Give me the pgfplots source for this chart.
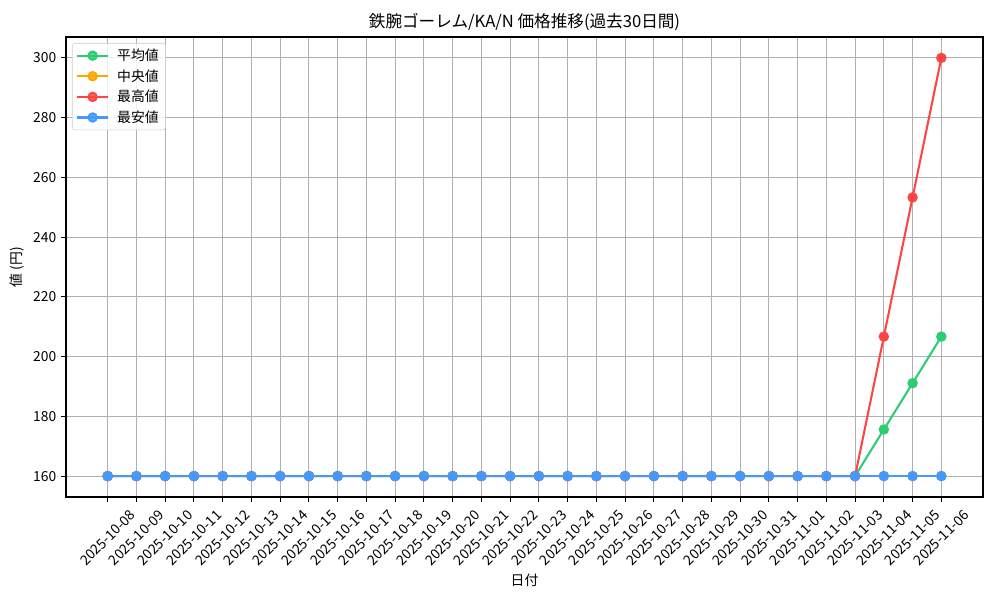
\documentclass[border=0pt]{standalone}
\usepackage{fontspec}
\setmainfont{Noto Sans CJK JP}
\usepackage{pgfplots}
\usepackage{pgfplotstable}
\pgfplotsset{compat=1.18}
\definecolor{cavg}{HTML}{2ECC71}
\definecolor{cmed}{HTML}{FFA500}
\definecolor{cmax}{HTML}{FF4444}
\definecolor{cmin}{HTML}{4499FF}
\definecolor{gridc}{HTML}{B0B0B0}

% idx avg med max min
\pgfplotstableread{
idx avg med max min
0 160 160 160 160
1 160 160 160 160
2 160 160 160 160
3 160 160 160 160
4 160 160 160 160
5 160 160 160 160
6 160 160 160 160
7 160 160 160 160
8 160 160 160 160
9 160 160 160 160
10 160 160 160 160
11 160 160 160 160
12 160 160 160 160
13 160 160 160 160
14 160 160 160 160
15 160 160 160 160
16 160 160 160 160
17 160 160 160 160
18 160 160 160 160
19 160 160 160 160
20 160 160 160 160
21 160 160 160 160
22 160 160 160 160
23 160 160 160 160
24 160 160 160 160
25 160 160 160 160
26 160 160 160 160
27 175.6 160 206.7 160
28 191.1 160 253.3 160
29 206.7 160 300 160
}\prices

\begin{document}
\begin{tikzpicture}
\useasboundingbox (0,0) rectangle (10in,6in);
\begin{axis}[
    at={(0.66in,1.03in)}, anchor=south west,
    scale only axis, width=9.17in, height=4.6in,
    font=\fontsize{10}{12}\selectfont,
    title={鉄腕ゴーレム/KA/N 価格推移(過去30日間)},
    title style={font=\fontsize{12}{14}\selectfont, yshift=-5pt},
    xlabel={日付}, ylabel={値 (円)},
    xlabel style={yshift=3pt},
    xmin=-1.45, xmax=30.45, ymin=153, ymax=307,
    xtick={0,...,29},
    xticklabels={2025-10-08,2025-10-09,2025-10-10,2025-10-11,2025-10-12,2025-10-13,2025-10-14,2025-10-15,2025-10-16,2025-10-17,2025-10-18,2025-10-19,2025-10-20,2025-10-21,2025-10-22,2025-10-23,2025-10-24,2025-10-25,2025-10-26,2025-10-27,2025-10-28,2025-10-29,2025-10-30,2025-10-31,2025-11-01,2025-11-02,2025-11-03,2025-11-04,2025-11-05,2025-11-06},
    xticklabel style={anchor=center, yshift=-26pt, rotate=45},
    ytick={160,180,...,300},
    /pgf/number format/assume math mode=true,
    tick pos=left, tick align=outside, major tick length=3.5pt,
    tick style={black, line width=0.8pt},
    axis line style={line width=0.8pt},
    grid=major, grid style={gridc, line width=0.8pt},
    legend style={at={(0.0065,0.987)}, anchor=north west, draw=black!20, rounded corners=2pt, fill=white, fill opacity=0.8, text opacity=1, font=\fontsize{10}{12}\selectfont, row sep=1pt, /tikz/every odd column/.append style={column sep=4pt}},
    legend cell align=left,
    legend image code/.code={\draw[mark repeat=2, mark phase=2] plot coordinates {(0pt,0pt) (11pt,0pt) (22pt,0pt)};},
    every axis plot/.append style={line width=1.5pt, mark=*, mark size=3pt},
]
\addplot[cavg, mark options={fill=cavg, draw=cavg}] table[x=idx, y=avg] {\prices};
\addplot[cmed, mark options={fill=cmed, draw=cmed}] table[x=idx, y=med] {\prices};
\addplot[cmax, mark options={fill=cmax, draw=cmax}] table[x=idx, y=max] {\prices};
\addplot[cmin, mark options={fill=cmin, draw=cmin}] table[x=idx, y=min] {\prices};
\legend{平均値, 中央値, 最高値, 最安値}
\end{axis}
\end{tikzpicture}
\end{document}
